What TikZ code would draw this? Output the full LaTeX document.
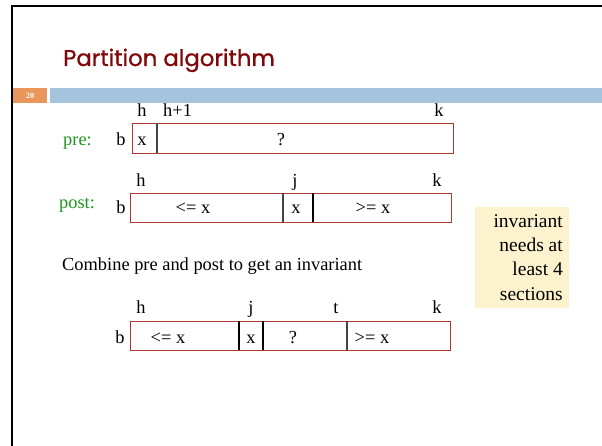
\documentclass[tikz,border=0pt]{standalone}
\usepackage{fontspec}
\setmainfont{Liberation Serif}
\newfontfamily\titlefont[FakeBold=0.8]{Poppins}
\definecolor{titlered}{RGB}{128,8,8}
\definecolor{slideorange}{RGB}{233,150,92}
\definecolor{slideblue}{RGB}{165,195,220}
\definecolor{arrred}{RGB}{175,55,45}
\definecolor{divgray}{RGB}{70,70,70}
\definecolor{prepost}{RGB}{30,150,30}
\definecolor{notebg}{RGB}{252,243,206}
\begin{document}
\begin{tikzpicture}[x=1pt,y=-1pt,
  txt/.style={inner sep=0pt, anchor=base, font=\fontsize{18.4}{21}\selectfont},
  arr/.style={draw=arrred, line width=0.9pt, inner sep=0pt},
  divider/.style={draw=divgray, line width=1.3pt},
  tag/.style={txt, text=prepost},
  note/.style={inner sep=0pt, anchor=base east, font=\fontsize{19.5}{24}\selectfont}]
\useasboundingbox (0,0) rectangle (602,446);
\fill[white] (0,0) rectangle (602,446);

% slide frame and header
\draw[line width=2pt] (12,446) -- (12,6) -- (602,6);
\node[inner sep=0pt, anchor=base west, text=titlered, font=\titlefont\fontsize{22.8}{26}\selectfont] (title) at (63,66) {Partition algorithm};
\node[fill=slideorange, inner sep=0pt, minimum width=34, minimum height=15] (pagebox) at (30,95.5) {};
\node[inner sep=0pt, anchor=base, text=white, font=\fontsize{8}{9}\selectfont\bfseries] (pagenum) at (30,99) {20};
\node[fill=slideblue, inner sep=0pt, minimum width=552, minimum height=15] (bar) at (326,95.5) {};

% pre
\node[tag] (pre) at (77.5,146) {pre:};
\node[txt] (preb) at (121,146) {b};
\node[txt] (preh) at (142,117) {h};
\node[txt, anchor=base west] (prehp) at (163,117) {h+1};
\node[txt] (prek) at (439,117) {k};
\node[arr, minimum width=321, minimum height=30] (prearr) at (292.5,138) {};
\draw[divider] (157,123) -- (157,153);
\node[txt] (prex) at (142,146) {x};
\node[txt] (preq) at (281,146) {?};

% post
\node[tag] (post) at (77,209) {post:};
\node[txt] (postb) at (121,214) {b};
\node[txt] (posth) at (141,187) {h};
\node[txt] (postj) at (295,187) {j};
\node[txt] (postk) at (437,187) {k};
\node[arr, minimum width=321, minimum height=29] (postarr) at (290.5,207.5) {};
\draw[divider] (283,193) -- (283,222);
\draw[divider, draw=black] (313,193) -- (313,222);
\node[txt] (postle) at (193,214) {<= x};
\node[txt] (postx) at (296,214) {x};
\node[txt] (postge) at (373,214) {>= x};

\node[txt, anchor=base west] (combine) at (62,270) {Combine pre and post to get an invariant};

% invariant
\node[txt] (invb) at (120,343) {b};
\node[txt] (invh) at (141,313) {h};
\node[txt] (invj) at (251,313) {j};
\node[txt] (invt) at (336,313) {t};
\node[txt] (invk) at (437,313) {k};
\node[arr, minimum width=320, minimum height=29] (invarr) at (290,335.5) {};
\draw[divider, draw=black] (239,321) -- (239,350);
\draw[divider, draw=black] (263,321) -- (263,350);
\draw[divider] (347,321) -- (347,350);
\node[txt] (invle) at (168,343) {<= x};
\node[txt] (invx) at (251,343) {x};
\node[txt] (invq) at (293,343) {?};
\node[txt] (invge) at (372,343) {>= x};

% side note
\node[fill=notebg, inner sep=0pt, minimum width=94, minimum height=101] (notebox) at (522,257.5) {};
\node[note] (n1) at (563,228) {invariant};
\node[note] (n2) at (563,252) {needs at};
\node[note] (n3) at (563,276) {least 4};
\node[note] (n4) at (563,300) {sections};
\end{tikzpicture}
\end{document}
